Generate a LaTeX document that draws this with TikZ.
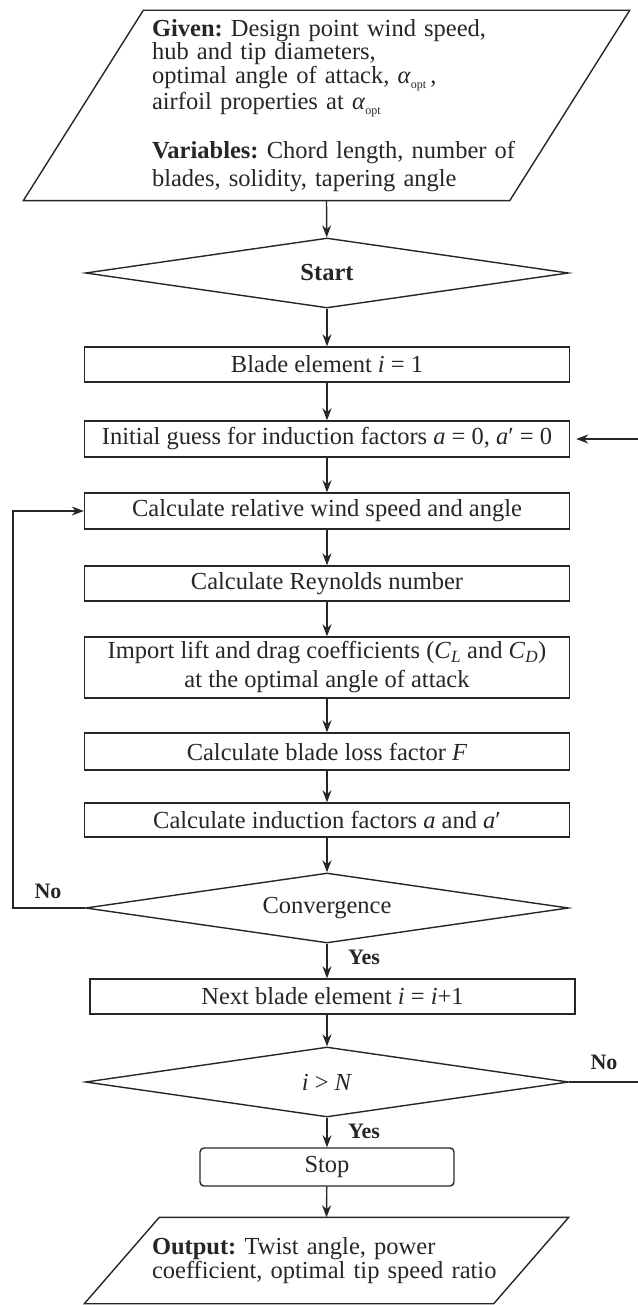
\documentclass[tikz,border=0pt]{standalone}
\usepackage{fontspec}
\setmainfont{Liberation Serif}
\usetikzlibrary{shapes.geometric,arrows.meta}
\frenchspacing

\newcommand{\optsub}{\raisebox{-5pt}{\fontsize{12}{12}\selectfont opt}}

\begin{document}
\begin{tikzpicture}[x=1pt,y=-1pt,line width=1.4pt,color=black!85,
	font=\fontsize{24.5}{26}\selectfont,
	>={Stealth[length=12pt,width=9pt]},
	stepbox/.style={draw,rectangle,minimum width=485pt,minimum height=35pt,inner sep=0pt},
	testbox/.style={draw,diamond,aspect=6,minimum width=483pt,minimum height=70pt,inner sep=0pt},
	iobox/.style={rectangle,inner sep=0pt,align=left,text width=349pt},
	lbl/.style={font=\bfseries\fontsize{22}{24}\selectfont}]
	\useasboundingbox (0,0) rectangle (637,1305);
	\node[iobox,minimum width=485pt,minimum height=189pt,font=\fontsize{24.5}{19}\selectfont] (given) at (326.5,105.5) {\textbf{Given:} Design point wind speed,\\ hub and tip diameters,\\ optimal angle of attack, \textit{α}\optsub\,,\\ airfoil properties at \textit{α}\optsub\\[24pt] \mbox{\textbf{Variables:} Chord length, number of}\\[4pt] blades, solidity, tapering angle};
	\node[testbox,font=\bfseries\fontsize{24.5}{26}\selectfont] (start) at (327,273) {Start};
	\node[stepbox] (blade1) at (327,364.5) {Blade element \textit{i} = 1};
	\node[stepbox,minimum height=36pt] (guess) at (327,439) {Initial guess for induction factors \textit{a} = 0, \textit{a}′ = 0};
	\node[stepbox,minimum height=36pt] (relwind) at (327,511) {Calculate relative wind speed and angle};
	\node[stepbox] (reynolds) at (327,583.5) {Calculate Reynolds number};
	\node[stepbox,minimum height=61pt,align=center,font=\fontsize{24.5}{29}\selectfont] (coeffs) at (327,667.5) {Import lift and drag coefficients (\textit{C}\textsubscript{\textit{L}} and \textit{C}\textsubscript{\textit{D}})\\ at the optimal angle of attack};
	\node[stepbox,minimum height=37pt] (loss) at (327,751.5) {Calculate blade loss factor \textit{F}};
	\node[stepbox,minimum height=34pt] (induct) at (327,820) {Calculate induction factors \textit{a} and \textit{a}′};
	\node[testbox] (conv) at (327,908) {Convergence};
	\node[stepbox] (next) at (332.5,996.5) {Next blade element \textit{i} = \textit{i}+1};
	\node[testbox] (check) at (327,1082) {\textit{i} > \textit{N}};
	\node[draw,rectangle,rounded corners=4pt,minimum width=254pt,minimum height=38pt,inner sep=0pt] (stop) at (327,1167) {Stop};
	\node[iobox,minimum width=408pt,minimum height=85pt,font=\fontsize{24.5}{24}\selectfont] (output) at (326.5,1260.5) {\textbf{Output:} Twist angle, power\\ coefficient, optimal tip speed ratio};
	\node[lbl] (no1) at (48,891) {No};
	\node[lbl] (yes1) at (364,957) {Yes};
	\node[lbl] (no2) at (604,1062) {No};
	\node[lbl] (yes2) at (364,1131) {Yes};
	% input and output slanted sides
	\draw ([xshift=60pt]given.north west) -- ([xshift=60pt]given.north east) -- ([xshift=-60pt]given.south east) -- ([xshift=-60pt]given.south west) -- cycle;
	\draw ([xshift=37.5pt]output.north west) -- ([xshift=37.5pt]output.north east) -- ([xshift=-37.5pt]output.south east) -- ([xshift=-37.5pt]output.south west) -- cycle;
	\draw[->] (given.south) -- (start);
	\draw[->] (start) -- (blade1);
	\draw[->] (blade1) -- (guess);
	\draw[->] (guess) -- (relwind);
	\draw[->] (relwind) -- (reynolds);
	\draw[->] (reynolds) -- (coeffs);
	\draw[->] (coeffs) -- (loss);
	\draw[->] (loss) -- (induct);
	\draw[->] (induct) -- (conv);
	\draw[->] (conv.south) -- (conv.south |- next.north);
	\draw[->] (conv.south |- next.south) -- (check);
	\draw[->] (check) -- (stop);
	\draw[->] (stop) -- (output.north);
	% loops back
	\draw[->] (conv.west) -- ++(-72,0) |- (relwind.west);
	\draw[->,shorten >=6pt] (check.east) -- ++(69,0) |- (guess.east);
\end{tikzpicture}
\end{document}
